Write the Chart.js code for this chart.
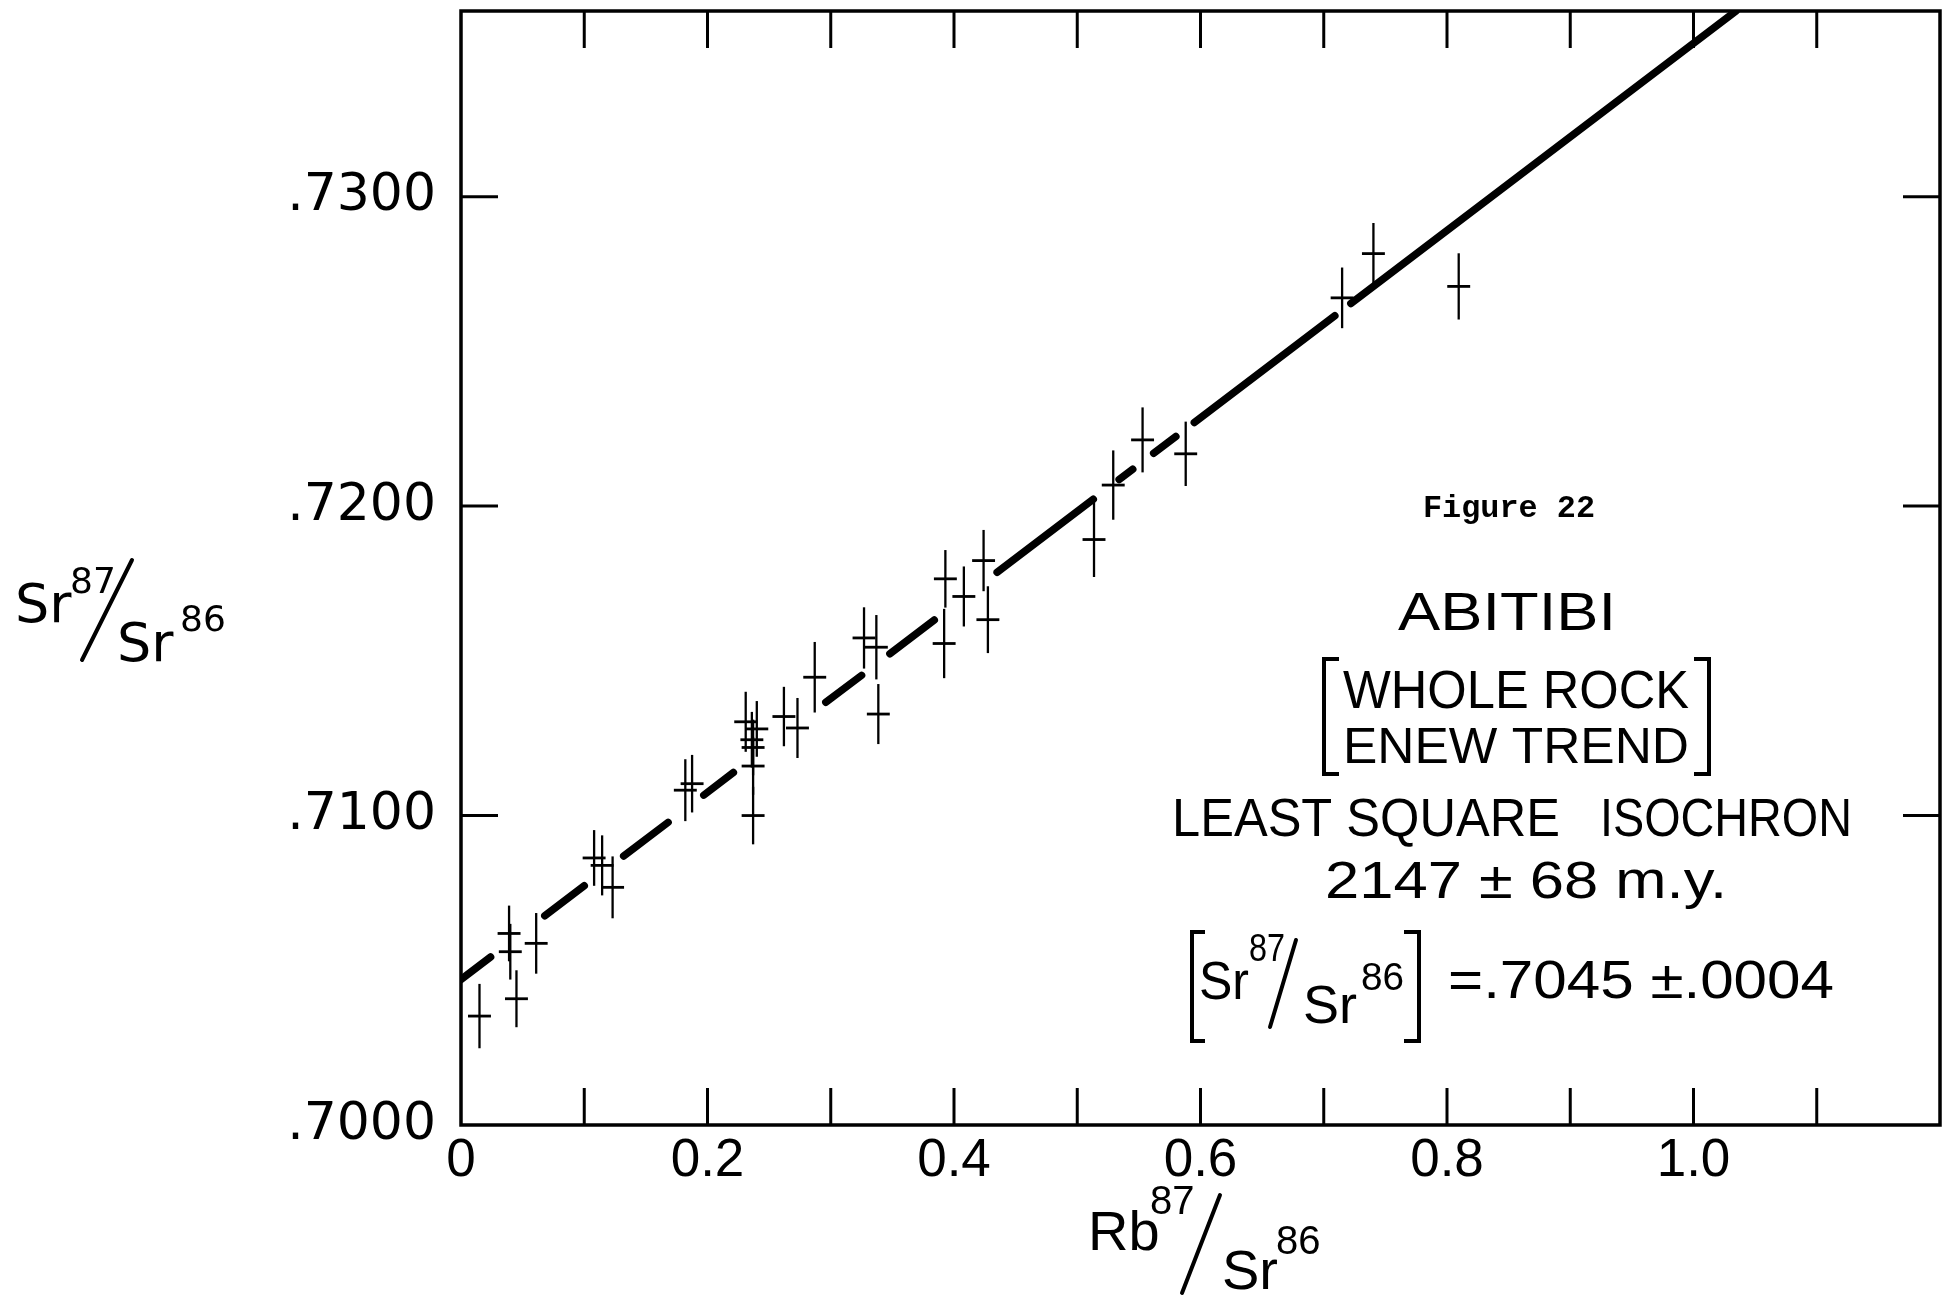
<!DOCTYPE html>
<html><head><meta charset="utf-8">
<script src="https://cdn.jsdelivr.net/npm/chart.js@4.4.1/dist/chart.umd.min.js"></script>
<style>html,body{margin:0;padding:0;background:#fff;}canvas{display:block;}</style>
</head><body>
<canvas id="c" width="1944" height="1299"></canvas>
<script>
// ---- data ----
const sampleX = [0.015, 0.039, 0.040, 0.045, 0.061, 0.108, 0.1145, 0.123, 0.182, 0.1875,
  0.231, 0.240, 0.236, 0.237, 0.237, 0.237, 0.262, 0.273, 0.287, 0.327,
  0.337, 0.3386, 0.393, 0.392, 0.408, 0.424, 0.4275, 0.5136, 0.5292, 0.553,
  0.588, 0.7149, 0.7403, 0.8095];
const sampleY = [0.70352, 0.70619, 0.70560, 0.70408, 0.70587, 0.70863, 0.70839, 0.70768, 0.71082, 0.71103,
  0.71303, 0.71280, 0.71245, 0.71220, 0.71160, 0.71000, 0.71320, 0.71283, 0.71447, 0.71574,
  0.71544, 0.71328, 0.71765, 0.71556, 0.71708, 0.71824, 0.71633, 0.71892, 0.72068, 0.72214,
  0.72169, 0.72673, 0.72816, 0.72710];
const sampleYErr = [0.00104, 0.0009, 0.0009, 0.00092, 0.00098, 0.0009, 0.00097, 0.0010, 0.0010, 0.00093,
  0.00097, 0.0009, 0.0009, 0.0009, 0.00093, 0.00093, 0.00096, 0.00097, 0.00114, 0.00099,
  0.00104, 0.00097, 0.00093, 0.00112, 0.00097, 0.00099, 0.00108, 0.00121, 0.00112, 0.00105,
  0.00104, 0.00098, 0.00099, 0.00107];
const sampleXErr = 0.0093;
// isochron drawn as broken segments (pairs of start/end points)
const isochronX = [0, 0.024, 0.068, 0.100, 0.132, 0.168, 0.197, 0.221, 0.296, 0.325,
  0.348, 0.384, 0.435, 0.513, 0.534, 0.545, 0.562, 0.580, 0.595, 0.709, 0.722, 1.0345];
const isochronY = [0.70470, 0.70543, 0.70676, 0.70773, 0.70869, 0.70978, 0.71066, 0.71139, 0.71366, 0.71453,
  0.71523, 0.71632, 0.71786, 0.72022, 0.72086, 0.72119, 0.72171, 0.72225, 0.72270, 0.72615, 0.72655, 0.73600];
const xTickValues = [0, 0.1, 0.2, 0.3, 0.4, 0.5, 0.6, 0.7, 0.8, 0.9, 1.0, 1.1];
const xTickLabels = ['0', '', '0.2', '', '0.4', '', '0.6', '', '0.8', '', '1.0', ''];
const yTickValues = [0.70, 0.71, 0.72, 0.73];
const yTickLabels = ['.7000', '.7100', '.7200', '.7300'];

// ---- build datasets ----
const pointData = sampleX.map((x, i) => ({x, y: sampleY[i]}));
const lineData = [];
for (let i = 0; i < isochronX.length; i += 2) {
  lineData.push({x: isochronX[i], y: isochronY[i]});
  lineData.push({x: isochronX[i + 1], y: isochronY[i + 1]});
  lineData.push({x: isochronX[i + 1], y: null});
}

const LS = '"Liberation Sans", Arial, sans-serif';
const DJ = '"DejaVu Sans", sans-serif';
const MONO = '"Liberation Mono", "Courier New", monospace';

function txt(ctx, s, x, y, size, family, align, w, weight) {
  ctx.font = (weight ? weight + ' ' : '') + size + 'px ' + family;
  const m = ctx.measureText(s).width;
  const sx = w ? w / m : 1;
  ctx.save();
  ctx.translate(x, y);
  ctx.scale(sx, 1);
  ctx.textAlign = align;
  ctx.textBaseline = 'alphabetic';
  ctx.fillStyle = '#000';
  ctx.fillText(s, 0, 0);
  ctx.restore();
}
function poly(ctx, pts, lw) {
  ctx.beginPath();
  ctx.moveTo(pts[0][0], pts[0][1]);
  for (let i = 1; i < pts.length; i++) ctx.lineTo(pts[i][0], pts[i][1]);
  ctx.lineWidth = lw;
  ctx.stroke();
}

const framePlugin = {
  id: 'frame',
  afterDatasetsDraw(chart) {
    const {ctx, scales: {x, y}} = chart;
    ctx.save();
    ctx.strokeStyle = '#000';
    ctx.lineCap = 'butt';
    sampleX.forEach((vx, i) => {
      const px = x.getPixelForValue(vx), py = y.getPixelForValue(sampleY[i]);
      const y1 = y.getPixelForValue(sampleY[i] - sampleYErr[i]);
      const y2 = y.getPixelForValue(sampleY[i] + sampleYErr[i]);
      const x1 = x.getPixelForValue(vx - sampleXErr);
      const x2 = x.getPixelForValue(vx + sampleXErr);
      poly(ctx, [[px, y1], [px, y2]], 2.3);
      poly(ctx, [[x1, py], [x2, py]], 2.8);
    });
    ctx.restore();
  },
  afterDraw(chart) {
    const {ctx, chartArea: {left, right, top, bottom}, scales: {x, y}} = chart;
    ctx.save();
    ctx.strokeStyle = '#000';
    ctx.fillStyle = '#000';
    ctx.lineWidth = 3.5;
    ctx.strokeRect(left, top, right - left, bottom - top);
    const TL = 37;
    x.ticks.forEach(t => {
      if (t.value <= x.min || t.value >= x.max) return;
      const p = x.getPixelForValue(t.value);
      poly(ctx, [[p, top], [p, top + TL]], 3);
      poly(ctx, [[p, bottom], [p, bottom - TL]], 3);
    });
    y.ticks.forEach(t => {
      if (t.value <= y.min || t.value >= y.max) return;
      const p = y.getPixelForValue(t.value);
      poly(ctx, [[left, p], [left + TL, p]], 3);
      poly(ctx, [[right, p], [right - TL, p]], 3);
    });

    // y axis title  Sr87/Sr86
    txt(ctx, 'Sr', 15, 622, 54, DJ, 'left');
    txt(ctx, '87', 70, 593, 36, DJ, 'left');
    ctx.lineCap = 'round';
    poly(ctx, [[82, 660], [132, 560]], 4);
    txt(ctx, 'Sr', 117, 661, 54, DJ, 'left');
    txt(ctx, '86', 180, 631, 36, DJ, 'left');

    // x axis title  Rb87/Sr86
    txt(ctx, 'Rb', 1088, 1250, 56, LS, 'left');
    txt(ctx, '87', 1150, 1214, 40, LS, 'left');
    poly(ctx, [[1182, 1293], [1220, 1195]], 4);
    txt(ctx, 'Sr', 1222, 1289, 56, LS, 'left');
    txt(ctx, '86', 1276, 1254, 40, LS, 'left');

    // annotation block
    txt(ctx, 'Figure 22', 1509, 517, 32, MONO, 'center', 172, 'bold');
    txt(ctx, 'ABITIBI', 1507, 630, 54, LS, 'center', 218);
    ctx.lineCap = 'butt';
    poly(ctx, [[1339, 659], [1324, 659], [1324, 774], [1339, 774]], 4);
    txt(ctx, 'WHOLE ROCK', 1343, 708, 53, LS, 'left', 346);
    txt(ctx, 'ENEW TREND', 1343, 763, 50, LS, 'left', 346);
    poly(ctx, [[1694, 659], [1709, 659], [1709, 774], [1694, 774]], 4);
    txt(ctx, 'LEAST SQUARE', 1172, 836, 54, LS, 'left', 388);
    txt(ctx, 'ISOCHRON', 1600, 836, 54, LS, 'left', 252);
    txt(ctx, '2147 \u00b1 68 m.y.', 1325, 898, 51, LS, 'left', 402);
    poly(ctx, [[1205, 932], [1192, 932], [1192, 1041], [1205, 1041]], 4);
    txt(ctx, 'Sr', 1199, 999, 54, LS, 'left', 50);
    txt(ctx, '87', 1249, 961, 38, LS, 'left', 36);
    ctx.lineCap = 'round';
    poly(ctx, [[1270, 1027], [1296, 940]], 4);
    txt(ctx, 'Sr', 1303, 1023, 54, LS, 'left', 54);
    txt(ctx, '86', 1361, 990, 38, LS, 'left', 43);
    ctx.lineCap = 'butt';
    poly(ctx, [[1404, 932], [1419, 932], [1419, 1041], [1404, 1041]], 4);
    txt(ctx, '=.7045 \u00b1.0004', 1448, 998, 54, LS, 'left', 386);
    ctx.restore();
  }
};

new Chart(document.getElementById('c'), {
  type: 'scatter',
  data: {
    datasets: [
      {
        label: 'Isochron',
        data: lineData,
        showLine: true,
        spanGaps: false,
        borderColor: '#000',
        borderWidth: 7.5,
        borderCapStyle: 'round',
        pointRadius: 0,
        pointHoverRadius: 0
      },
      {
        label: 'Samples',
        data: pointData,
        pointRadius: 0,
        pointHoverRadius: 0,
        showLine: false
      }
    ]
  },
  options: {
    responsive: false,
    animation: false,
    devicePixelRatio: 1,
    layout: {padding: {left: 0, right: 4, top: 11, bottom: 0}},
    plugins: {legend: {display: false}, tooltip: {enabled: false}, title: {display: false}},
    scales: {
      x: {
        type: 'linear', min: 0, max: 1.2,
        afterFit: s => { s.height = 174; s.paddingLeft = 0; s.paddingRight = 0; },
        afterBuildTicks: s => { s.ticks = xTickValues.map(v => ({value: v})); },
        grid: {display: false, drawTicks: false},
        border: {display: false},
        ticks: {
          autoSkip: false, maxRotation: 0, padding: 5, color: '#000',
          font: {family: LS, size: 53},
          callback: v => { const i = xTickValues.findIndex(t => Math.abs(t - v) < 1e-9); return i >= 0 ? xTickLabels[i] : ''; }
        }
      },
      y: {
        type: 'linear', min: 0.7, max: 0.736,
        afterFit: s => { s.width = 461; s.paddingTop = 0; s.paddingBottom = 0; },
        afterBuildTicks: s => { s.ticks = yTickValues.map(v => ({value: v})); },
        grid: {display: false, drawTicks: false},
        border: {display: false},
        ticks: {
          padding: 25, color: '#000',
          font: {family: DJ, size: 52},
          callback: v => { const i = yTickValues.findIndex(t => Math.abs(t - v) < 1e-9); return i >= 0 ? yTickLabels[i] : ''; }
        }
      }
    }
  },
  plugins: [framePlugin]
});
</script>
</body></html>
